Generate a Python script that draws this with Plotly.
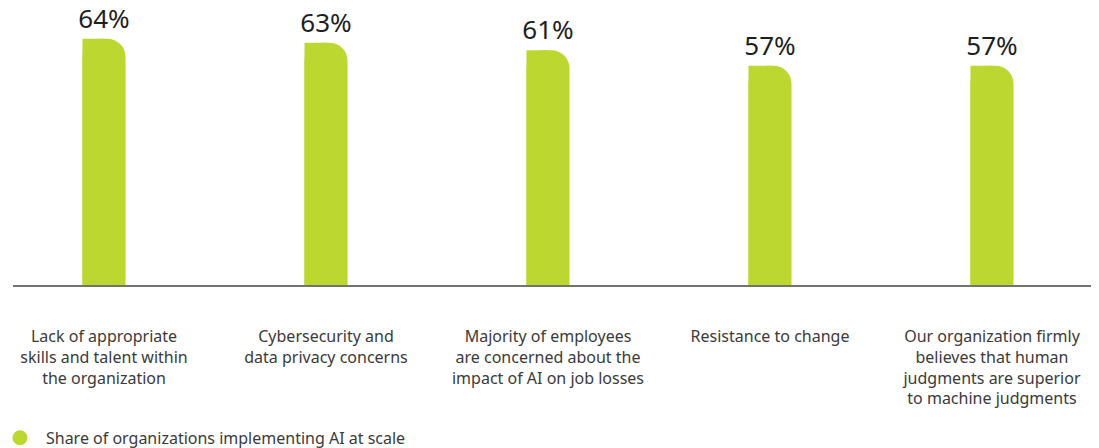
import plotly.graph_objects as go

categories = [
    "Lack of appropriate<br>skills and talent within<br>the organization",
    "Cybersecurity and<br>data privacy concerns",
    "Majority of employees<br>are concerned about the<br>impact of AI on job losses",
    "Resistance to change",
    "Our organization firmly<br>believes that human<br>judgments are superior<br>to machine judgments",
]
values = [64, 63, 61, 57, 57]
series_name = "Share of organizations implementing AI at scale"

GREEN = "#bdd731"
FONT = "Noto Sans, Open Sans, sans-serif"
BW = 0.194

fig = go.Figure()
# full bar with rounded top corners
fig.add_trace(go.Bar(
    x=categories, y=values, width=BW, offset=-BW / 2,
    marker=dict(color=GREEN, cornerradius=18, line=dict(width=0)),
    text=[f"{v}%" for v in values], textposition="outside",
    textfont=dict(size=26, color="#1e1e1e", family=FONT),
    constraintext="none", cliponaxis=False, showlegend=False, hoverinfo="skip",
))
# left half square to keep top-left corner square
fig.add_trace(go.Bar(
    x=categories, y=values, width=BW / 2, offset=-BW / 2,
    marker=dict(color=GREEN, line=dict(width=0)),
    showlegend=False, hoverinfo="skip",
))
# legend entry (circle)
fig.add_trace(go.Scatter(
    x=[None], y=[None], mode="markers", name=series_name,
    marker=dict(color=GREEN, size=15, symbol="circle"),
))

fig.update_layout(
    width=1091, height=440,
    margin=dict(l=5, r=4, t=0, b=163, autoexpand=False),
    paper_bgcolor="white", plot_bgcolor="white",
    barmode="overlay",
    font=dict(family=FONT, size=16, color="#3a3a3a"),
    xaxis=dict(
        type="category", range=[-0.41, 4.464],
        showline=True, linecolor="#737373", linewidth=1.5,
        showgrid=False, zeroline=False, automargin=False,
        ticks="", ticklabelstandoff=36,
        tickfont=dict(size=16, color="#3a3a3a"),
        fixedrange=True,
    ),
    yaxis=dict(range=[0, 72.0], visible=False, fixedrange=True),
    legend=dict(
        orientation="h", x=-0.0176, xref="paper", xanchor="left",
        y=0.023, yref="container", yanchor="middle",
        font=dict(size=16, color="#3a3a3a"),
        itemsizing="trace", itemwidth=42,
    ),
)

fig.write_html("out.html")
